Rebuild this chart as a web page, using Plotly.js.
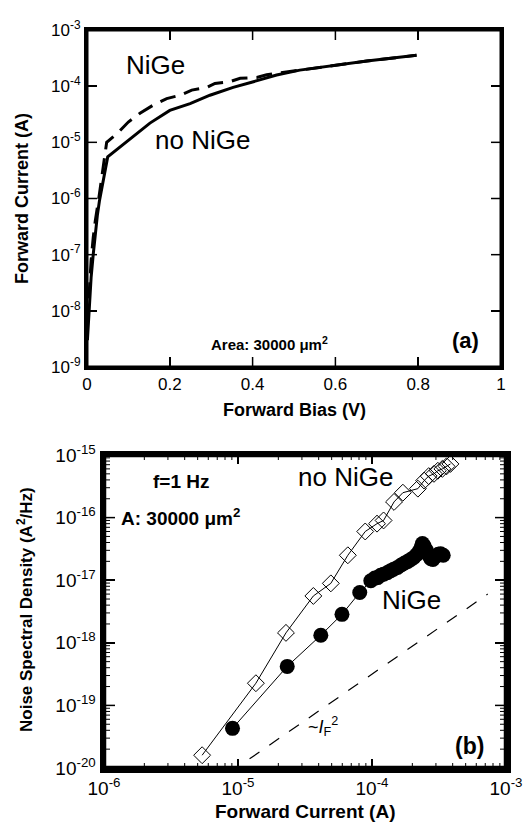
<!DOCTYPE html>
<html>
<head>
<meta charset="utf-8">
<script src="https://cdn.plot.ly/plotly-3.0.1.min.js"></script>
<style>html,body{margin:0;padding:0;background:#fff;}#chart{width:524px;height:827px;}</style>
</head>
<body>
<div id="chart"></div>
<script>
// ---- Panel (a): forward I-V ----
const biasNoNiGe = [0.001, 0.005, 0.010, 0.015, 0.020, 0.025, 0.030, 0.035, 0.040, 0.045, 0.050, 0.080, 0.112, 0.152, 0.200, 0.249, 0.297, 0.353, 0.402, 0.458, 0.514, 0.595, 0.676, 0.796];
const currNoNiGe = [3e-9, 1e-8, 4e-8, 1e-7, 2.5e-7, 5e-7, 9e-7, 1.5e-6, 2.3e-6, 3.5e-6, 5.5e-6, 8.3e-6, 1.26e-5, 2.2e-5, 3.7e-5, 4.9e-5, 6.9e-5, 9.5e-5, 1.2e-4, 1.58e-4, 1.93e-4, 2.34e-4, 2.8e-4, 3.55e-4];
const biasNiGe = [0.001, 0.005, 0.010, 0.015, 0.020, 0.030, 0.040, 0.0475, 0.0756, 0.0998, 0.128, 0.160, 0.1925, 0.225, 0.253, 0.289, 0.309, 0.345, 0.370, 0.410, 0.434, 0.466, 0.514, 0.595, 0.676, 0.796];
const currNiGe = [6e-9, 2e-8, 8e-8, 2e-7, 4e-7, 1.2e-6, 4e-6, 1e-5, 1.5e-5, 2.3e-5, 3.3e-5, 4.6e-5, 6e-5, 6.9e-5, 8.5e-5, 9.5e-5, 1.12e-4, 1.2e-4, 1.38e-4, 1.43e-4, 1.6e-4, 1.73e-4, 1.93e-4, 2.34e-4, 2.8e-4, 3.55e-4];

// ---- Panel (b): noise spectral density at f = 1 Hz ----
const ifNoNiGe = [5.4e-6, 1.36e-5, 2.28e-5, 3.65e-5, 4.93e-5, 6.6e-5, 8.9e-5, 1.09e-4, 1.22e-4, 1.46e-4, 1.7e-4, 2.2e-4, 2.45e-4, 2.65e-4, 2.9e-4, 3.1e-4, 3.35e-4, 3.6e-4, 3.85e-4];
const snNoNiGe = [1.6e-20, 2.26e-19, 1.44e-18, 5.6e-18, 8.9e-18, 2.5e-17, 6.0e-17, 8e-17, 9e-17, 1.78e-16, 2.5e-16, 2.9e-16, 3.9e-16, 4.6e-16, 5.0e-16, 5.6e-16, 6.0e-16, 6.6e-16, 7.2e-16];
const ifNiGe = [9.1e-6, 2.33e-5, 4.15e-5, 5.97e-5, 8.1e-5, 9.8e-5, 1.05e-4, 1.1e-4, 1.16e-4, 1.22e-4, 1.3e-4, 1.38e-4, 1.45e-4, 1.55e-4, 1.65e-4, 1.75e-4, 1.85e-4, 1.95e-4, 2.05e-4, 2.15e-4, 2.25e-4, 2.33e-4, 2.38e-4, 2.45e-4, 2.55e-4, 2.65e-4, 2.75e-4, 2.85e-4, 2.98e-4, 3.12e-4, 3.25e-4, 3.4e-4];
const snNiGe = [4.3e-20, 4.2e-19, 1.32e-18, 2.85e-18, 6.35e-18, 9.8e-18, 1.08e-17, 1.1e-17, 1.2e-17, 1.25e-17, 1.32e-17, 1.42e-17, 1.5e-17, 1.6e-17, 1.75e-17, 1.88e-17, 2.0e-17, 2.15e-17, 2.3e-17, 2.55e-17, 2.9e-17, 3.4e-17, 3.85e-17, 3.5e-17, 3.0e-17, 2.5e-17, 2.2e-17, 2.15e-17, 2.4e-17, 2.6e-17, 2.65e-17, 2.5e-17];
const refI = [1.22e-5, 7.3e-4];
const refS = [1.4e-20, 6e-18];

// ---- ticks ----
const xTickA = [0, 0.2, 0.4, 0.6, 0.8, 1];
const xTickAText = ['0', '0.2', '0.4', '0.6', '0.8', '1'];
const yExpA = [-9, -8, -7, -6, -5, -4, -3];
const xExpB = [-6, -5, -4, -3];
const yExpB = [-20, -19, -18, -17, -16, -15];

function decadeVals(exps) { return exps.map(e => Math.pow(10, e)); }
function decadeText(exps) { return exps.map(e => '10<sup>' + e + '</sup>'); }

const W = 524, H = 827;
const px = x => x / W;
const py = y => 1 - y / H;
const FONT = 'Liberation Sans, Arial, sans-serif';

const traces = [
  { x: biasNoNiGe, y: currNoNiGe, mode: 'lines', line: { color: '#000', width: 3 }, xaxis: 'x', yaxis: 'y', name: 'no NiGe' },
  { x: biasNiGe, y: currNiGe, mode: 'lines', line: { color: '#000', width: 3, dash: '16px,9px' }, xaxis: 'x', yaxis: 'y', name: 'NiGe' },
  { x: refI, y: refS, mode: 'lines', line: { color: '#000', width: 1.2, dash: '12px,12px' }, xaxis: 'x2', yaxis: 'y2', name: '~I_F^2' },
  { x: ifNoNiGe, y: snNoNiGe, mode: 'lines+markers', line: { color: '#000', width: 1 },
    marker: { symbol: 'diamond-open', size: 13, color: '#000', line: { width: 1, color: '#000' } }, xaxis: 'x2', yaxis: 'y2', name: 'no NiGe' },
  { x: ifNiGe, y: snNiGe, mode: 'lines+markers', line: { color: '#000', width: 1 },
    marker: { symbol: 'circle', size: 15, color: '#000' }, xaxis: 'x2', yaxis: 'y2', name: 'NiGe' }
];

// ---- frame and tick marks drawn as shapes in axis-domain coordinates ----
const shapes = [];
function seg(xref, yref, x0, x1, y0, y1, w) {
  shapes.push({ type: 'line', xref: xref, yref: yref, x0: x0, x1: x1, y0: y0, y1: y1, layer: 'above', line: { color: '#000', width: w } });
}
function frame(xref, yref, w) {
  shapes.push({ type: 'rect', xref: xref, yref: yref, x0: 0, x1: 1, y0: 0, y1: 1, layer: 'above', fillcolor: 'rgba(0,0,0,0)', line: { color: '#000', width: w } });
}
// panel (a): plot area 414 x 337 px
const aW = 414, aH = 337;
frame('x domain', 'y domain', 3);
xTickA.slice(1, -1).forEach(v => {
  const f = (v - 0) / (1 - 0);
  seg('x domain', 'y domain', f, f, 0, 10 / aH, 1.5);
  seg('x domain', 'y domain', f, f, 1 - 10 / aH, 1, 1.5);
});
yExpA.slice(1, -1).forEach(e => {
  const f = (e - yExpA[0]) / (yExpA[yExpA.length - 1] - yExpA[0]);
  seg('x domain', 'y domain', 0, 10 / aW, f, f, 1.5);
  seg('x domain', 'y domain', 1 - 10 / aW, 1, f, f, 1.5);
});
// panel (b): plot area 402 x 313 px, log decades with minor ticks
const bW = 402, bH = 313;
frame('x2 domain', 'y2 domain', 4.5);
const bx0 = xExpB[0], bx1 = xExpB[xExpB.length - 1];
const by0 = yExpB[0], by1 = yExpB[yExpB.length - 1];
for (let e = bx0; e < bx1; e++) {
  for (let d = 1; d <= 9; d++) {
    if (e === bx0 && d === 1) continue;
    const f = (e + Math.log10(d) - bx0) / (bx1 - bx0);
    const len = (d === 1 ? 9 : 5) / bH;
    seg('x2 domain', 'y2 domain', f, f, 0, len, d === 1 ? 1.5 : 1);
    seg('x2 domain', 'y2 domain', f, f, 1 - len, 1, d === 1 ? 1.5 : 1);
  }
}
for (let e = by0; e < by1; e++) {
  for (let d = 1; d <= 9; d++) {
    if (e === by0 && d === 1) continue;
    const f = (e + Math.log10(d) - by0) / (by1 - by0);
    const len = (d === 1 ? 11 : 6) / bW;
    seg('x2 domain', 'y2 domain', 0, len, f, f, d === 1 ? 1.5 : 1);
    seg('x2 domain', 'y2 domain', 1 - len, 1, f, f, d === 1 ? 1.5 : 1);
  }
}

const axCommon = {
  showgrid: false, zeroline: false, showline: true, linecolor: '#000', mirror: 'ticks',
  ticks: 'inside', tickcolor: '#000', automargin: false
};

const annText = [
  // axis titles
  { text: '<b>Forward Bias (V)</b>', x: 294, y: 410, size: 18 },
  { text: '<b>Forward Current (A)</b>', x: 22, y: 199, size: 18, angle: -90 },
  { text: '<b>Forward Current (A)</b>', x: 305, y: 811, size: 19 },
  { text: '<b>Noise Spectral Density (A<sup>2</sup>/Hz)</b>', x: 25, y: 610, size: 17, angle: -90 },
  // panel (a) labels
  { text: 'NiGe', x: 155, y: 65, size: 26 },
  { text: 'no NiGe', x: 202, y: 140, size: 26 },
  { text: '<b>Area: 30000 \u03bcm<sup>2</sup></b>', x: 269, y: 343, size: 15 },
  { text: '<b>(a)</b>', x: 465, y: 340, size: 22 },
  // panel (b) labels
  { text: '<b>f=1 Hz</b>', x: 181, y: 481, size: 19 },
  { text: '<b>A: 30000 \u03bcm<sup>2</sup></b>', x: 180, y: 517, size: 19 },
  { text: 'no NiGe', x: 345, y: 477, size: 26 },
  { text: 'NiGe', x: 411, y: 600, size: 26 },
  { text: '~<i>I</i><sub>F</sub><sup>2</sup>', x: 323, y: 726, size: 18 },
  { text: '<b>(b)</b>', x: 469, y: 746, size: 23 }
];

const layout = {
  width: W, height: H,
  margin: { l: 0, r: 0, t: 0, b: 0 },
  paper_bgcolor: '#fff', plot_bgcolor: '#fff',
  showlegend: false,
  font: { family: FONT, color: '#000' },
  xaxis: Object.assign({}, axCommon, {
    domain: [px(87), px(501)], anchor: 'y', range: [0, 1],
    tickmode: 'array', tickvals: xTickA, ticktext: xTickAText,
    linewidth: 3, ticklen: 10, tickwidth: 1.5,
    tickfont: { size: 17, family: FONT }
  }),
  yaxis: Object.assign({}, axCommon, {
    domain: [py(367), py(30)], anchor: 'x', type: 'log', range: [-9, -3],
    tickmode: 'array', tickvals: decadeVals(yExpA), ticktext: decadeText(yExpA),
    linewidth: 3, ticklen: 10, tickwidth: 1.5,
    tickfont: { size: 17, family: FONT }
  }),
  xaxis2: Object.assign({}, axCommon, {
    domain: [px(104), px(506)], anchor: 'y2', type: 'log', range: [-6, -3],
    tickmode: 'array', tickvals: decadeVals(xExpB), ticktext: decadeText(xExpB),
    linewidth: 4.5, ticklen: 9, tickwidth: 1.5,
    tickfont: { size: 19, family: FONT }
  }),
  yaxis2: Object.assign({}, axCommon, {
    domain: [py(768), py(455)], anchor: 'x2', type: 'log', range: [-20, -15],
    tickmode: 'array', tickvals: decadeVals(yExpB), ticktext: decadeText(yExpB),
    linewidth: 4.5, ticklen: 11, tickwidth: 1.5,
    tickfont: { size: 19, family: FONT }
  }),
  shapes: shapes,
  annotations: annText.map(a => ({
    text: a.text, x: px(a.x), y: py(a.y), xref: 'paper', yref: 'paper',
    xanchor: 'center', yanchor: 'middle', textangle: a.angle || 0,
    showarrow: false, font: { size: a.size, family: FONT, color: '#000' }
  }))
};

Plotly.newPlot('chart', traces, layout, { staticPlot: true, displayModeBar: false });
</script>
</body>
</html>
